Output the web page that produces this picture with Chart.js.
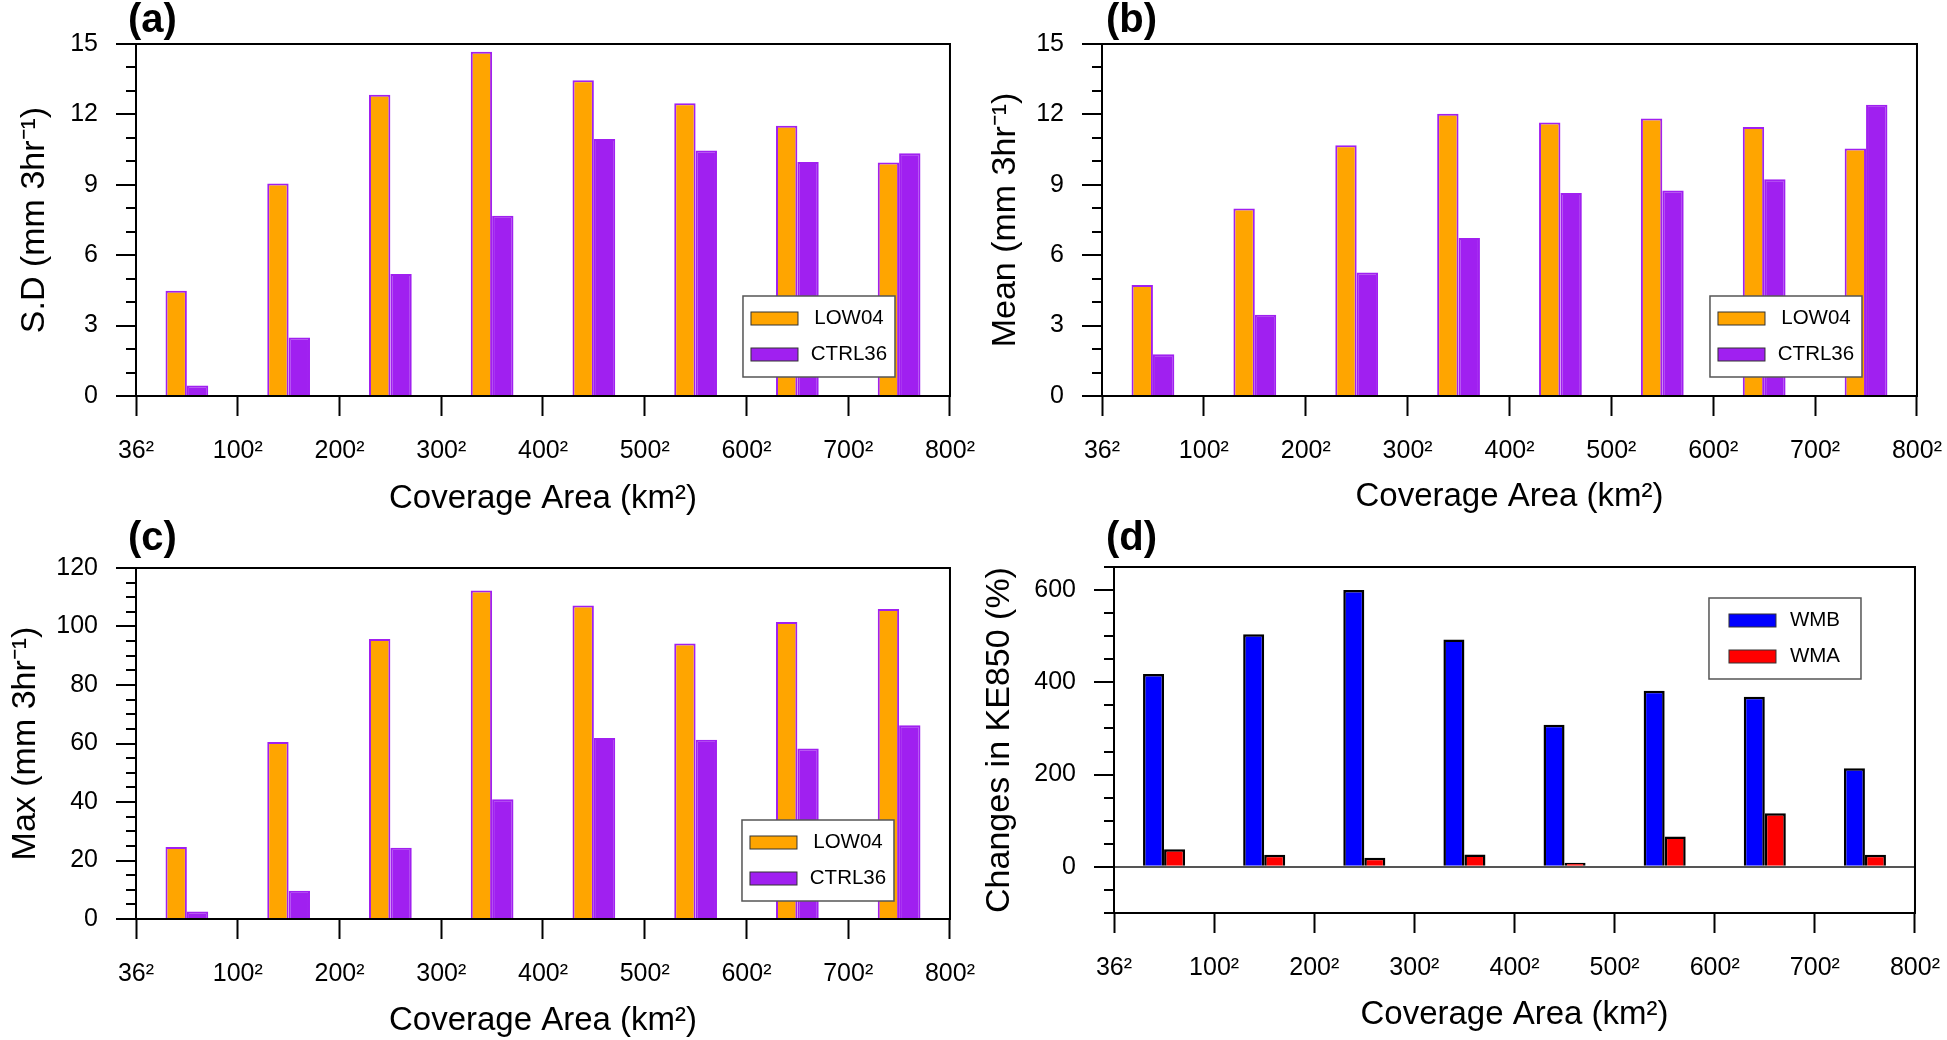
<!DOCTYPE html>
<html>
<head>
<meta charset="utf-8">
<script src="https://cdn.jsdelivr.net/npm/chart.js@4.4.1/dist/chart.umd.min.js"></script>
<style>
  html, body { margin: 0; padding: 0; background: #fff; overflow: hidden; }
  body { width: 1947px; height: 1040px; position: relative; }
  canvas { position: absolute; }
  .tag { position: absolute; font: bold 40px "Liberation Sans", Arial, Helvetica, sans-serif; line-height: 40px; color: #000; }
</style>
</head>
<body>
<canvas id="chartA" width="995" height="520" style="left:0px;top:0px"></canvas>
<canvas id="chartB" width="996" height="520" style="left:966px;top:0px"></canvas>
<canvas id="chartC" width="995" height="520" style="left:0px;top:520px"></canvas>
<canvas id="chartD" width="982" height="520" style="left:978px;top:520px"></canvas>
<div class="tag" style="left:128px;top:-2px">(a)</div>
<div class="tag" style="left:1106px;top:-2px">(b)</div>
<div class="tag" style="left:128px;top:516px">(c)</div>
<div class="tag" style="left:1106px;top:516px">(d)</div>
<script>
// bin edges along the x axis (coverage area)
const xTickLabels = ['36²', '100²', '200²', '300²', '400²', '500²', '600²', '700²', '800²'];

// (a) standard deviation
const sdLow04 = [4.49, 9.06, 12.84, 14.67, 13.45, 12.48, 11.52, 9.95];
const sdCtrl36 = [0.45, 2.49, 5.2, 7.68, 10.95, 10.46, 9.97, 10.34];
// (b) mean
const meanLow04 = [4.73, 7.99, 10.69, 12.03, 11.66, 11.83, 11.46, 10.55];
const meanCtrl36 = [1.78, 3.46, 5.26, 6.73, 8.65, 8.76, 9.24, 12.41];
// (c) max
const maxLow04 = [24.6, 60.5, 95.7, 112.3, 107.2, 94.2, 101.5, 106.0];
const maxCtrl36 = [2.6, 9.7, 24.4, 40.9, 61.9, 61.3, 58.3, 66.2];
// (d) changes in KE850 (%)
const keWMB = [418, 504, 600, 493, 308, 382, 369, 214];
const keWMA = [38, 26, 20, 27, 9, 66, 116, 26];

const FONT = '"Liberation Sans", Arial, Helvetica, sans-serif';
const ORANGE = '#FFA500';
const PURPLE = '#A020F0';

Chart.defaults.font.family = FONT;
Chart.defaults.color = '#000';

// top and right sides of the plot box
const framePlugin = {
  id: 'frame',
  afterDraw(chart) {
    const { ctx, chartArea: a } = chart;
    ctx.save();
    ctx.strokeStyle = '#000';
    ctx.lineWidth = 2;
    ctx.beginPath();
    ctx.moveTo(a.left - 1, a.top);
    ctx.lineTo(a.right, a.top);
    ctx.lineTo(a.right, a.bottom + 1);
    ctx.stroke();
    ctx.restore();
  }
};

// boxed legend inside the plot area
const boxLegend = {
  id: 'boxLegend',
  afterDatasetsDraw(chart, args, opts) {
    const { ctx, chartArea: a } = chart;
    const w = 152, h = 81;
    const x0 = a.right - opts.right - w;
    const y0 = opts.top != null ? a.top + opts.top : a.bottom - opts.bottom - h;
    ctx.save();
    ctx.fillStyle = '#fff';
    ctx.fillRect(x0, y0, w, h);
    ctx.strokeStyle = '#555';
    ctx.lineWidth = 1.5;
    ctx.strokeRect(x0, y0, w, h);
    chart.data.datasets.forEach((ds, i) => {
      const cy = y0 + 22.5 + i * 36;
      ctx.fillStyle = ds.backgroundColor;
      ctx.fillRect(x0 + opts.swatchX, cy - 6.5, 47, 13);
      ctx.strokeStyle = '#333';
      ctx.lineWidth = 1;
      ctx.strokeRect(x0 + opts.swatchX, cy - 6.5, 47, 13);
      ctx.fillStyle = '#000';
      ctx.font = '20.5px ' + FONT;
      ctx.textAlign = 'center';
      ctx.textBaseline = 'middle';
      ctx.fillText(ds.label, x0 + 106, cy);
    });
    ctx.restore();
  }
};

function makePanel(canvasId, p) {
  return new Chart(document.getElementById(canvasId), {
    type: 'bar',
    data: {
      datasets: p.series.map(s => ({
        label: s.label,
        data: s.values.map((v, i) => ({ x: i + 0.5, y: v })),
        backgroundColor: s.fill,
        borderColor: s.edge,
        borderWidth: p.edgeWidth,
        barPercentage: 1,
        categoryPercentage: 0.42
      }))
    },
    options: {
      responsive: false,
      animation: false,
      layout: { padding: { left: 0, right: 40, top: p.top, bottom: 0 } },
      plugins: {
        legend: { display: false },
        tooltip: { enabled: false },
        boxLegend: p.legend
      },
      scales: {
        x: {
          type: 'linear',
          min: 0,
          max: 8,
          offset: false,
          afterFit: s => { s.height = p.xHeight; },
          grid: { display: true, drawOnChartArea: false, offset: false, tickLength: 20, tickWidth: 2, tickColor: '#000' },
          border: { display: true, color: '#000', width: 2 },
          ticks: {
            stepSize: 1, autoSkip: false, maxRotation: 0, padding: 20,
            font: { size: 25 },
            callback: v => xTickLabels[v]
          },
          title: {
            display: true, text: 'Coverage Area (km²)',
            font: { size: 33, lineHeight: 1 },
            padding: { top: 0, bottom: p.xTitlePad }
          }
        },
        y: {
          min: p.yMin,
          max: p.yMax,
          afterFit: s => { s.width = 136; },
          grid: {
            display: true,
            drawOnChartArea: !!p.zeroLine,
            tickLength: 20,
            tickWidth: 2,
            tickColor: '#000',
            color: c => (c.tick && c.tick.value === 0 ? '#555' : 'rgba(0,0,0,0)'),
            lineWidth: c => (c.tick && c.tick.value === 0 ? 2 : 0),
            tickBorderDash: c => (c.tick && c.tick.value % p.major === 0 ? [] : [0, 10, 10, 0])
          },
          border: { display: true, color: '#000', width: 2 },
          ticks: {
            stepSize: p.minor, autoSkip: false, padding: 18,
            font: { size: 25 },
            callback: v => (v % p.major === 0 ? String(v) : '')
          },
          title: {
            display: true, text: p.yTitle,
            font: { size: 34, lineHeight: 1.2 },
            padding: { top: p.yTitlePad, bottom: 0 }
          }
        }
      }
    },
    plugins: [framePlugin, boxLegend]
  });
}

makePanel('chartA', {
  series: [
    { label: 'LOW04', values: sdLow04, fill: ORANGE, edge: PURPLE },
    { label: 'CTRL36', values: sdCtrl36, fill: PURPLE, edge: PURPLE }
  ],
  edgeWidth: 2, top: 44, xHeight: 124, xTitlePad: 4.5, yTitlePad: 14.6,
  yMin: 0, yMax: 15, minor: 1, major: 3, yTitle: 'S.D (mm 3hr⁻¹)',
  legend: { right: 55, bottom: 19, swatchX: 8 }
});

makePanel('chartB', {
  series: [
    { label: 'LOW04', values: meanLow04, fill: ORANGE, edge: PURPLE },
    { label: 'CTRL36', values: meanCtrl36, fill: PURPLE, edge: PURPLE }
  ],
  edgeWidth: 2, top: 44, xHeight: 124, xTitlePad: 6.5, yTitlePad: 19.6,
  yMin: 0, yMax: 15, minor: 1, major: 3, yTitle: 'Mean (mm 3hr⁻¹)',
  legend: { right: 55, bottom: 19, swatchX: 8 }
});

makePanel('chartC', {
  series: [
    { label: 'LOW04', values: maxLow04, fill: ORANGE, edge: PURPLE },
    { label: 'CTRL36', values: maxCtrl36, fill: PURPLE, edge: PURPLE }
  ],
  edgeWidth: 2, top: 48, xHeight: 121, xTitlePad: 3, yTitlePad: 5.6,
  yMin: 0, yMax: 120, minor: 5, major: 20, yTitle: 'Max (mm 3hr⁻¹)',
  legend: { right: 56, bottom: 18, swatchX: 8 }
});

makePanel('chartD', {
  series: [
    { label: 'WMB', values: keWMB, fill: '#0000FF', edge: '#000' },
    { label: 'WMA', values: keWMA, fill: '#FF0000', edge: '#000' }
  ],
  edgeWidth: 2.5, top: 47, xHeight: 127, xTitlePad: 9, yTitlePad: 1.6,
  yMin: -100, yMax: 650, minor: 50, major: 200, yTitle: 'Changes in KE850 (%)',
  zeroLine: true,
  legend: { right: 54, top: 31, swatchX: 20 }
});
</script>
</body>
</html>
